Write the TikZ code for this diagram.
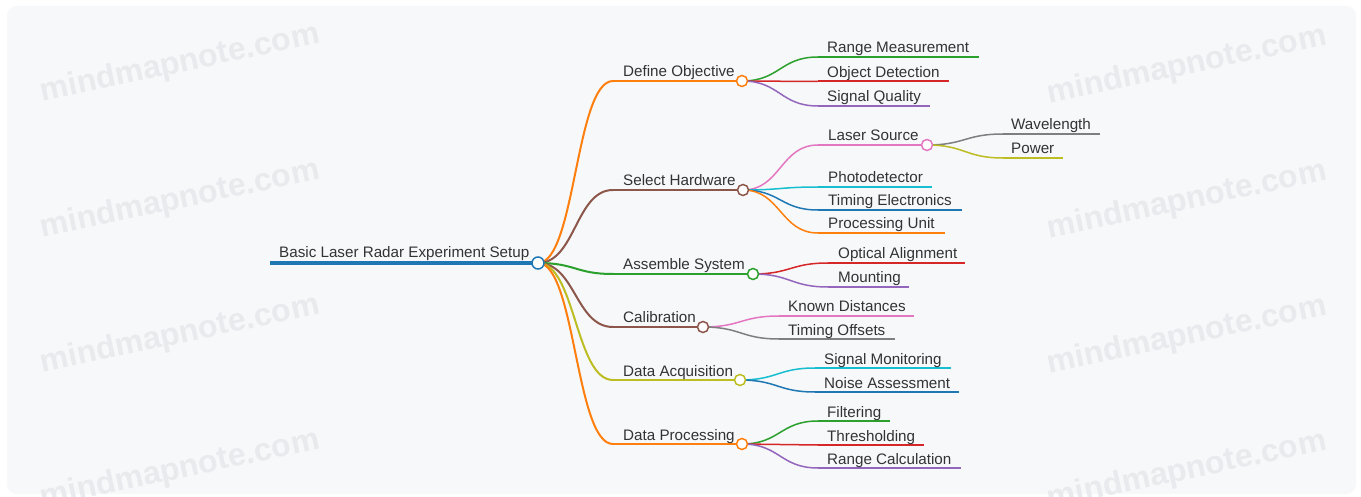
\documentclass[tikz,border=0pt]{standalone}
\usepackage{fontspec}
\setmainfont{Liberation Sans}
\usetikzlibrary{calc}

\definecolor{cOrange}{HTML}{FF7F0E}
\definecolor{cBrown}{HTML}{8C564B}
\definecolor{cGreen}{HTML}{2CA02C}
\definecolor{cOlive}{HTML}{BCBD22}
\definecolor{cRed}{HTML}{D62728}
\definecolor{cPurple}{HTML}{9467BD}
\definecolor{cPink}{HTML}{E377C2}
\definecolor{cCyan}{HTML}{17BECF}
\definecolor{cBlue}{HTML}{1F77B4}
\definecolor{cGray}{HTML}{7F7F7F}
\definecolor{panel}{RGB}{247,248,250}
\definecolor{inkText}{RGB}{51,51,51}
\definecolor{wmark}{RGB}{233,234,237}

\begin{document}
\begin{tikzpicture}[x=1pt,y=-1pt,
  tx/.style={anchor=base west, inner sep=0pt, font=\fontsize{15.2}{18}\selectfont, text=inkText},
  wm/.style={inner sep=0pt, rotate=12, font=\bfseries\fontsize{32}{38}\selectfont, text=wmark},
  knob/.style={circle, draw, fill=white, line width=1.5pt, inner sep=0pt, minimum size=11pt},
  rootknob/.style={knob, minimum size=12pt},
  link/.style={to path={let \p1=(\tikztostart), \p2=(\tikztotarget) in
     .. controls ({(\x1+\x2)/2},\y1) and ({(\x1+\x2)/2},\y2) .. (\tikztotarget)}},
  lnk1/.style={line width=2pt},
  lnk2/.style={line width=1.5pt},
  bar1/.style={line width=2pt},
  bar2/.style={line width=2pt},
]
% canvas
\useasboundingbox (0,0) rectangle (1361,497);
\fill[white] (0,0) rectangle (1361,497);
\fill[panel, rounded corners=10pt] (7,6) rectangle (1356,494);

% watermarks
\begin{scope}
\clip (0,0) rectangle (1361,497);
\node[wm] (wmA) at (180,64) {mindmapnote.com};
\node[wm] (wmB) at (180,200) {mindmapnote.com};
\node[wm] (wmC) at (180,335) {mindmapnote.com};
\node[wm] (wmD) at (180,470) {mindmapnote.com};
\node[wm] (wmE) at (1187,66) {mindmapnote.com};
\node[wm] (wmF) at (1187,201) {mindmapnote.com};
\node[wm] (wmG) at (1187,336) {mindmapnote.com};
\node[wm] (wmH) at (1187,471) {mindmapnote.com};
\end{scope}

% anchor points: start and end of each underline
\coordinate (rootS) at (270,263);  \coordinate (rootK) at (538,263);

\coordinate (objS) at (613,81);    \coordinate (objK) at (742,81);
\coordinate (hwS)  at (613,190);   \coordinate (hwK)  at (743,190);
\coordinate (asmS) at (613,274);   \coordinate (asmK) at (753,274);
\coordinate (calS) at (613,327);   \coordinate (calK) at (703,327);
\coordinate (acqS) at (613,380);   \coordinate (acqK) at (740,380);
\coordinate (prcS) at (613,444);   \coordinate (prcK) at (742,444);

\coordinate (rngS) at (818,57);    \coordinate (rngE) at (979,57);
\coordinate (detS) at (818,81.5);  \coordinate (detE) at (949,81.5);
\coordinate (sqS)  at (818,106);   \coordinate (sqE)  at (930,106);

\coordinate (lasS) at (818,145);   \coordinate (lasK) at (927,145);
\coordinate (phS)  at (818,187);   \coordinate (phE)  at (932,187);
\coordinate (teS)  at (818,210);   \coordinate (teE)  at (962,210);
\coordinate (puS)  at (818,233);   \coordinate (puE)  at (945,233);
\coordinate (wlS)  at (1003,134);  \coordinate (wlE)  at (1100,134);
\coordinate (pwS)  at (1003,158);  \coordinate (pwE)  at (1063,158);

\coordinate (oaS)  at (828,263);   \coordinate (oaE)  at (965,263);
\coordinate (moS)  at (828,287);   \coordinate (moE)  at (909,287);

\coordinate (kdS)  at (779,316);   \coordinate (kdE)  at (914,316);
\coordinate (toS)  at (779,339);   \coordinate (toE)  at (895,339);

\coordinate (smS)  at (815,368);   \coordinate (smE)  at (951,368);
\coordinate (naS)  at (815,392);   \coordinate (naE)  at (959,392);

\coordinate (fiS)  at (818,421);   \coordinate (fiE)  at (890,421);
\coordinate (thS)  at (818,445);   \coordinate (thE)  at (924,445);
\coordinate (rcS)  at (818,468);   \coordinate (rcE)  at (961,468);

% branches from the root
\draw[lnk1, cOrange] (rootK) to[link] (objS);
\draw[lnk1, cBrown]  (rootK) to[link] (hwS);
\draw[lnk1, cGreen]  (rootK) to[link] (asmS);
\draw[lnk1, cBrown]  (rootK) to[link] (calS);
\draw[lnk1, cOlive]  (rootK) to[link] (acqS);
\draw[lnk1, cOrange] (rootK) to[link] (prcS);

% second-level branches
\draw[lnk2, cGreen]  (objK) to[link] (rngS);
\draw[lnk2, cRed]    (objK) to[link] (detS);
\draw[lnk2, cPurple] (objK) to[link] (sqS);

\draw[lnk2, cPink]   (hwK) to[link] (lasS);
\draw[lnk2, cCyan]   (hwK) to[link] (phS);
\draw[lnk2, cBlue]   (hwK) to[link] (teS);
\draw[lnk2, cOrange] (hwK) to[link] (puS);

\draw[lnk2, cGray]   (lasK) to[link] (wlS);
\draw[lnk2, cOlive]  (lasK) to[link] (pwS);

\draw[lnk2, cRed]    (asmK) to[link] (oaS);
\draw[lnk2, cPurple] (asmK) to[link] (moS);

\draw[lnk2, cPink]   (calK) to[link] (kdS);
\draw[lnk2, cGray]   (calK) to[link] (toS);

\draw[lnk2, cCyan]   (acqK) to[link] (smS);
\draw[lnk2, cBlue]   (acqK) to[link] (naS);

\draw[lnk2, cGreen]  (prcK) to[link] (fiS);
\draw[lnk2, cRed]    (prcK) to[link] (thS);
\draw[lnk2, cPurple] (prcK) to[link] (rcS);

% underlines
\draw[line width=4pt, cBlue] (rootS) -- (rootK);
\draw[bar1, cOrange] (objS) -- (objK);
\draw[bar1, cBrown]  (hwS)  -- (hwK);
\draw[bar1, cGreen]  (asmS) -- (asmK);
\draw[bar1, cBrown]  (calS) -- (calK);
\draw[bar1, cOlive]  (acqS) -- (acqK);
\draw[bar1, cOrange] (prcS) -- (prcK);

\draw[bar2, cGreen]  (rngS) -- (rngE);
\draw[bar2, cRed]    (detS) -- (detE);
\draw[bar2, cPurple] (sqS)  -- (sqE);
\draw[bar2, cPink]   (lasS) -- (lasK);
\draw[bar2, cCyan]   (phS)  -- (phE);
\draw[bar2, cBlue]   (teS)  -- (teE);
\draw[bar2, cOrange] (puS)  -- (puE);
\draw[bar2, cGray]   (wlS)  -- (wlE);
\draw[bar2, cOlive]  (pwS)  -- (pwE);
\draw[bar2, cRed]    (oaS)  -- (oaE);
\draw[bar2, cPurple] (moS)  -- (moE);
\draw[bar2, cPink]   (kdS)  -- (kdE);
\draw[bar2, cGray]   (toS)  -- (toE);
\draw[bar2, cCyan]   (smS)  -- (smE);
\draw[bar2, cBlue]   (naS)  -- (naE);
\draw[bar2, cGreen]  (fiS)  -- (fiE);
\draw[bar2, cRed]    (thS)  -- (thE);
\draw[bar2, cPurple] (rcS)  -- (rcE);

% fold knobs
\node[rootknob, draw=cBlue] (rootC) at (rootK) {};
\node[knob, draw=cOrange] (objC) at (objK) {};
\node[knob, draw=cBrown]  (hwC)  at (hwK)  {};
\node[knob, draw=cGreen]  (asmC) at (asmK) {};
\node[knob, draw=cBrown]  (calC) at (calK) {};
\node[knob, draw=cOlive]  (acqC) at (acqK) {};
\node[knob, draw=cOrange] (prcC) at (prcK) {};
\node[knob, draw=cPink]   (lasC) at (lasK) {};

% topic texts
\node[tx] (tRoot) at (279,258) {Basic Laser Radar Experiment Setup};

\node[tx] (tObj) at (623,77)  {Define Objective};
\node[tx] (tHw)  at (623,186) {Select Hardware};
\node[tx] (tAsm) at (623,270) {Assemble System};
\node[tx] (tCal) at (623,323) {Calibration};
\node[tx] (tAcq) at (623,376) {Data Acquisition};
\node[tx] (tPrc) at (623,440) {Data Processing};

\node[tx] (tRng) at (827,53)   {Range Measurement};
\node[tx] (tDet) at (827,77.5) {Object Detection};
\node[tx] (tSq)  at (827,102)  {Signal Quality};

\node[tx] (tLas) at (828,141) {Laser Source};
\node[tx] (tPh)  at (828,183) {Photodetector};
\node[tx] (tTe)  at (828,206) {Timing Electronics};
\node[tx] (tPu)  at (828,229) {Processing Unit};
\node[tx] (tWl)  at (1011,130) {Wavelength};
\node[tx] (tPw)  at (1011,154) {Power};

\node[tx] (tOa)  at (838,259) {Optical Alignment};
\node[tx] (tMo)  at (838,283) {Mounting};

\node[tx] (tKd)  at (788,312) {Known Distances};
\node[tx] (tTo)  at (788,335) {Timing Offsets};

\node[tx] (tSm)  at (824,364) {Signal Monitoring};
\node[tx] (tNa)  at (824,388) {Noise Assessment};

\node[tx] (tFi)  at (827,417) {Filtering};
\node[tx] (tTh)  at (827,441) {Thresholding};
\node[tx] (tRc)  at (827,464) {Range Calculation};
\end{tikzpicture}
\end{document}
